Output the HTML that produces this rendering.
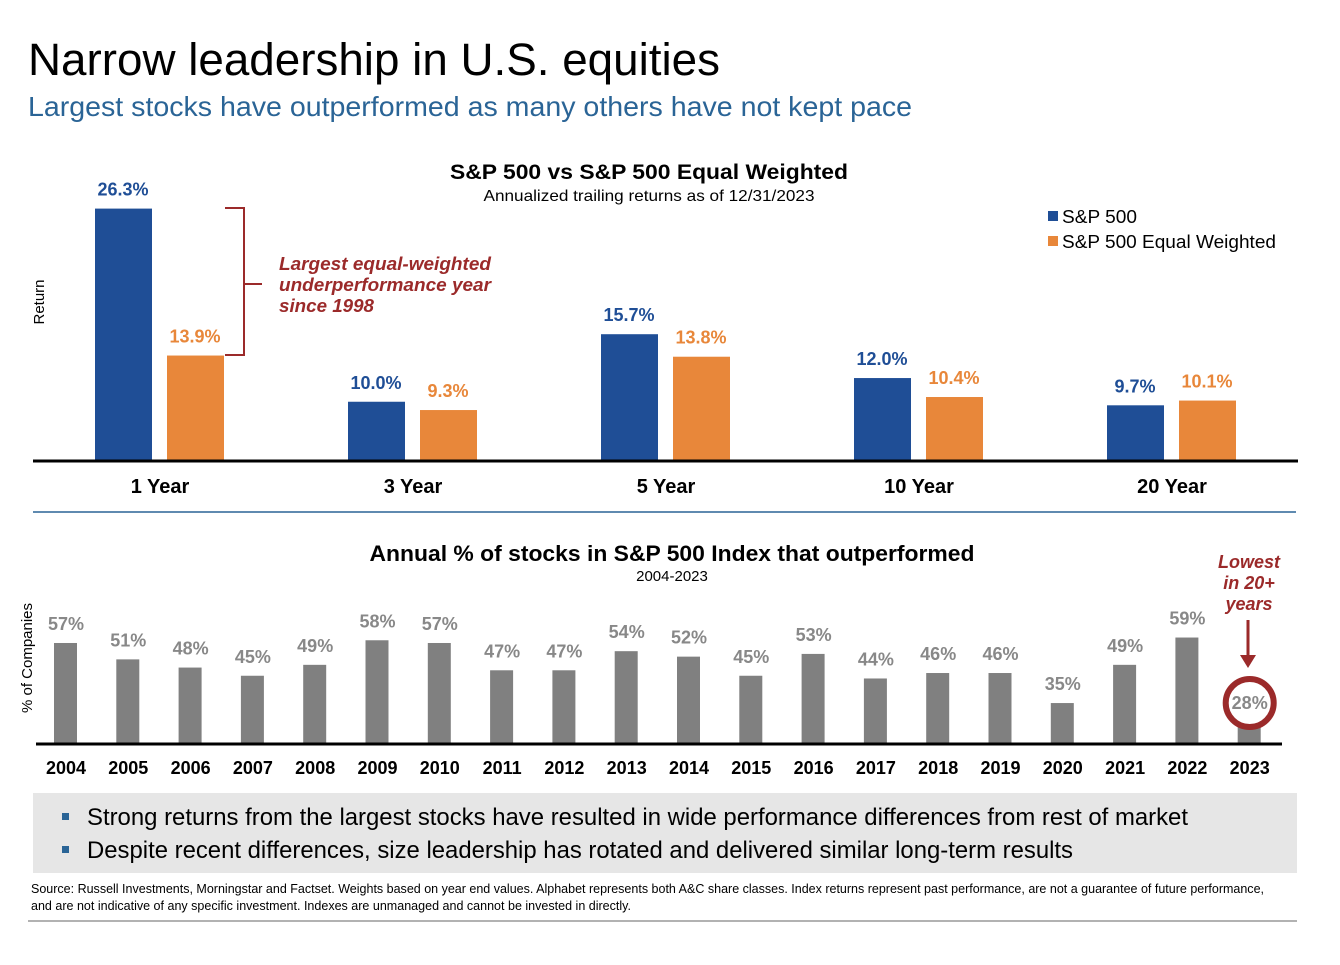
<!DOCTYPE html>
<html><head><meta charset="utf-8"><style>
body{margin:0;background:#fff;font-family:"Liberation Sans",Arial,sans-serif;}
svg text{font-family:"Liberation Sans",Arial,sans-serif;}
</style></head><body>
<svg width="1340" height="960" xmlns="http://www.w3.org/2000/svg">
<text x="28" y="75" font-size="45" fill="#000" textLength="692" lengthAdjust="spacingAndGlyphs">Narrow leadership in U.S. equities</text>
<text x="28" y="116" font-size="28" fill="#2a6496" textLength="884" lengthAdjust="spacingAndGlyphs">Largest stocks have outperformed as many others have not kept pace</text>
<text x="649" y="179" font-size="21" font-weight="bold" text-anchor="middle" textLength="398" lengthAdjust="spacingAndGlyphs">S&amp;P 500 vs S&amp;P 500 Equal Weighted</text>
<text x="649" y="201" font-size="16" text-anchor="middle" textLength="331" lengthAdjust="spacingAndGlyphs">Annualized trailing returns as of 12/31/2023</text>
<text transform="translate(44,302) rotate(-90)" font-size="15" text-anchor="middle">Return</text>
<g>
<rect x="1048" y="211" width="10" height="10" fill="#1f4e96"/>
<text x="1062" y="223" font-size="18" textLength="75" lengthAdjust="spacingAndGlyphs">S&amp;P 500</text>
<rect x="1048" y="236" width="10" height="10" fill="#e8873a"/>
<text x="1062" y="248" font-size="18" textLength="214" lengthAdjust="spacingAndGlyphs">S&amp;P 500 Equal Weighted</text>
</g>
<g id="topChart"></g>
<path d="M225,208 H244 V355 H225 M244,284 H262" stroke="#9b2a2a" stroke-width="2" fill="none"/>
<text font-size="18" font-weight="bold" font-style="italic" fill="#9b2a2a"><tspan x="279" y="270" textLength="212" lengthAdjust="spacingAndGlyphs">Largest equal-weighted</tspan><tspan x="279" y="291" textLength="212" lengthAdjust="spacingAndGlyphs">underperformance year</tspan><tspan x="279" y="312" textLength="95" lengthAdjust="spacingAndGlyphs">since 1998</tspan></text>
<line x1="33" y1="512" x2="1296" y2="512" stroke="#2a6496" stroke-width="1.5"/>
<text x="672" y="561" font-size="22" font-weight="bold" text-anchor="middle" textLength="605" lengthAdjust="spacingAndGlyphs">Annual % of stocks in S&amp;P 500 Index that outperformed</text>
<text x="672" y="581" font-size="15" text-anchor="middle">2004-2023</text>
<text transform="translate(32,658) rotate(-90)" font-size="15" text-anchor="middle">% of Companies</text>
<g id="botChart"></g>
<text font-size="18" font-weight="bold" font-style="italic" fill="#9b2a2a" text-anchor="middle"><tspan x="1249" y="568">Lowest</tspan><tspan x="1249" y="589">in 20+</tspan><tspan x="1249" y="610">years</tspan></text>
<line x1="1248" y1="620" x2="1248" y2="657" stroke="#9b2a2a" stroke-width="3"/>
<polygon points="1240,655 1256,655 1248,668" fill="#9b2a2a"/>
<rect x="33" y="793" width="1264" height="80" fill="#e6e6e6"/>
<rect x="62" y="813" width="7" height="7" fill="#2a6496"/>
<text x="87" y="825" font-size="24" textLength="1101" lengthAdjust="spacingAndGlyphs">Strong returns from the largest stocks have resulted in wide performance differences from rest of market</text>
<rect x="62" y="846" width="7" height="7" fill="#2a6496"/>
<text x="87" y="858" font-size="24" textLength="986" lengthAdjust="spacingAndGlyphs">Despite recent differences, size leadership has rotated and delivered similar long-term results</text>
<text font-size="12.5" fill="#000"><tspan x="31" y="893" textLength="1233" lengthAdjust="spacingAndGlyphs">Source: Russell Investments, Morningstar and Factset. Weights based on year end values. Alphabet represents both A&amp;C share classes. Index returns represent past performance, are not a guarantee of future performance,</tspan><tspan x="31" y="910" textLength="600" lengthAdjust="spacingAndGlyphs">and are not indicative of any specific investment. Indexes are unmanaged and cannot be invested in directly.</tspan></text>
<line x1="28" y1="921" x2="1297" y2="921" stroke="#999" stroke-width="1.5"/>
</svg>
<script>
const periods=["1 Year","3 Year","5 Year","10 Year","20 Year"];
const sp500=[26.3,10.0,15.7,12.0,9.7];
const equalW=[13.9,9.3,13.8,10.4,10.1];
const years=["2004","2005","2006","2007","2008","2009","2010","2011","2012","2013","2014","2015","2016","2017","2018","2019","2020","2021","2022","2023"];
const pctOut=[57,51,48,45,49,58,57,47,47,54,52,45,53,44,46,46,35,49,59,28];
const NS="http://www.w3.org/2000/svg";
function mk(p,t,a,txt){const e=document.createElementNS(NS,t);for(const k in a)e.setAttribute(k,a[k]);if(txt!==undefined)e.textContent=txt;p.appendChild(e);return e;}
const topG=document.getElementById('topChart');
const yT=v=>461-(v-5)*11.85;
const xT=i=>160+i*253;
periods.forEach((p,i)=>{
 const c=xT(i);
 let r=mk(topG,'rect',{x:c-65,y:yT(sp500[i]),width:57,height:461-yT(sp500[i]),fill:'#1f4e96'});
 
 
 let t=mk(topG,'text',{x:c-37,y:yT(sp500[i])-13,'font-size':18,'font-weight':'bold',fill:'#1f4e96','text-anchor':'middle'},sp500[i].toFixed(1)+'%');
 
 
 r=mk(topG,'rect',{x:c+7,y:yT(equalW[i]),width:57,height:461-yT(equalW[i]),fill:'#e8873a'});
 
 
 t=mk(topG,'text',{x:c+35,y:yT(equalW[i])-13,'font-size':18,'font-weight':'bold',fill:'#e8873a','text-anchor':'middle'},equalW[i].toFixed(1)+'%');
 
 
 t=mk(topG,'text',{x:c,y:493,'font-size':20,'font-weight':'bold','text-anchor':'middle'},p);
 
 
});
let ax=mk(topG,'line',{x1:33,y1:461,x2:1298,y2:461,stroke:'#000','stroke-width':3});


const botG=document.getElementById('botChart');
const yB=v=>744-(v-20)*2.73;
const xB=i=>66+i*62.3;
years.forEach((y,i)=>{
 const c=xB(i);
 let r=mk(botG,'rect',{x:c-12,y:yB(pctOut[i]),width:23,height:744-yB(pctOut[i]),fill:'#808080'});
 
 
 const last=i==years.length-1;
 if(last){
  const ci=mk(botG,'circle',{cx:c,cy:703,r:24,fill:'#fff',stroke:'#9b2a2a','stroke-width':6});
  
  
 }
 let t=mk(botG,'text',{x:c,y:last?709:yB(pctOut[i])-13,'font-size':18,'font-weight':'bold',fill:'#888','text-anchor':'middle'},pctOut[i]+'%');
 
 
 t=mk(botG,'text',{x:c,y:774,'font-size':18,'font-weight':'bold','text-anchor':'middle'},y);
 
 
});
ax=mk(botG,'line',{x1:36,y1:744,x2:1282,y2:744,stroke:'#000','stroke-width':3});


</script>
</body></html>
